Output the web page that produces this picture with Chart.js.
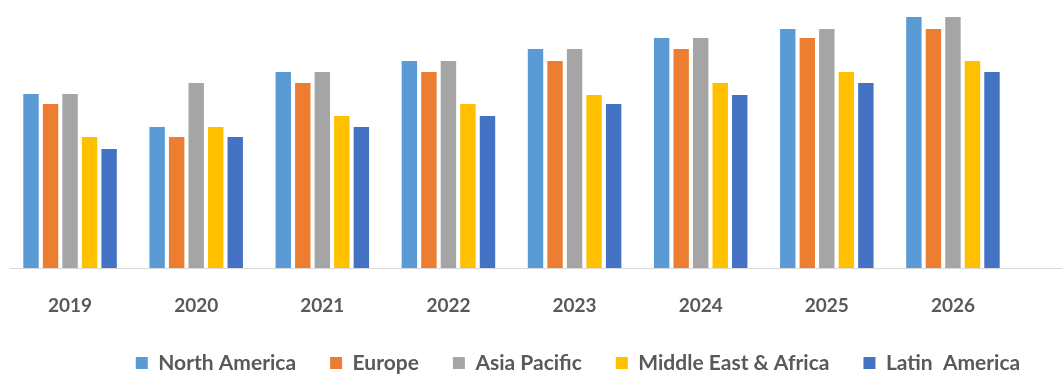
<!DOCTYPE html>
<html>
<head>
<meta charset="utf-8">
<script src="https://cdn.jsdelivr.net/npm/chart.js@4"></script>
<style>
  html, body { margin: 0; padding: 0; background: #ffffff; }
  #wrap { width: 1062px; height: 374px; }
</style>
</head>
<body>
<div id="wrap"><canvas id="chart"></canvas></div>
<script>
// Regional market size by year (relative units)
const years = ['2019', '2020', '2021', '2022', '2023', '2024', '2025', '2026'];
const northAmerica = [17.4, 14.1, 19.6, 20.7, 21.9, 23.0, 23.9, 25.1];
const europe       = [16.4, 13.1, 18.5, 19.6, 20.7, 21.9, 23.0, 23.9];
const asiaPacific  = [17.4, 18.5, 19.6, 20.7, 21.9, 23.0, 23.9, 25.1];
const middleEastAfrica = [13.1, 14.1, 15.2, 16.4, 17.3, 18.5, 19.6, 20.7];
const latinAmerica = [11.9, 13.1, 14.1, 15.2, 16.4, 17.3, 18.5, 19.6];

const TEXT = '#595959';
const FONT = 'Lato, "Open Sans", sans-serif';

// Thin baseline running across the full width under the bars
const baseline = {
  id: 'baseline',
  beforeDatasetsDraw(chart) {
    const ctx = chart.ctx;
    const y = Math.round(chart.scales.y.getPixelForValue(0)) + 0.5;
    ctx.save();
    ctx.strokeStyle = '#d9d9d9';
    ctx.lineWidth = 1;
    ctx.beginPath();
    ctx.moveTo(10, y);
    ctx.lineTo(chart.width, y);
    ctx.stroke();
    ctx.restore();
  }
};

// Place the legend row under the plot, centred at a fixed spot
const legendPlacement = {
  id: 'legendPlacement',
  afterLayout(chart) {
    const lg = chart.legend;
    if (!lg) return;
    const dx = 578 - (lg.left + lg.right) / 2;
    lg.left += dx; lg.right += dx;
    const pad = lg.options.labels.padding;
    const half = lg.options.labels.font.size / 2;
    lg.top = 363 - pad - half;
    lg.bottom = chart.height;
    lg.height = lg.bottom - lg.top;
  }
};

const ds = (label, data, color) => ({
  label, data,
  backgroundColor: color,
  borderWidth: 0,
  categoryPercentage: 0.774,
  barPercentage: 0.79
});

new Chart(document.getElementById('chart'), {
  type: 'bar',
  data: {
    labels: years,
    datasets: [
      ds('North America', northAmerica, '#5B9BD5'),
      ds('Europe', europe, '#ED7D31'),
      ds('Asia Pacific', asiaPacific, '#A5A5A5'),
      ds('Middle East & Africa', middleEastAfrica, '#FFC000'),
      ds('Latin  America', latinAmerica, '#4472C4')
    ]
  },
  options: {
    responsive: true,
    maintainAspectRatio: false,
    animation: false,
    layout: { padding: { left: 7, right: 46, top: 0, bottom: 0 } },
    scales: {
      x: {
        grid: { display: false, drawTicks: false },
        border: { display: false },
        ticks: {
          color: TEXT,
          padding: 26,
          font: { family: FONT, size: 19, weight: 'bold' }
        },
        afterFit(scale) {
          const lgH = scale.chart.legend ? scale.chart.legend.height : 0;
          scale.height = scale.chart.height - 268 - lgH;
        }
      },
      y: {
        display: false,
        min: 0,
        max: 26.8
      }
    },
    plugins: {
      legend: {
        position: 'bottom',
        maxHeight: 30,
        labels: {
          color: TEXT,
          boxWidth: 12,
          boxHeight: 12,
          padding: 34,
          font: { family: FONT, size: 21, weight: 'bold' }
        }
      },
      tooltip: { enabled: false }
    }
  },
  plugins: [baseline, legendPlacement]
});
</script>
</body>
</html>
